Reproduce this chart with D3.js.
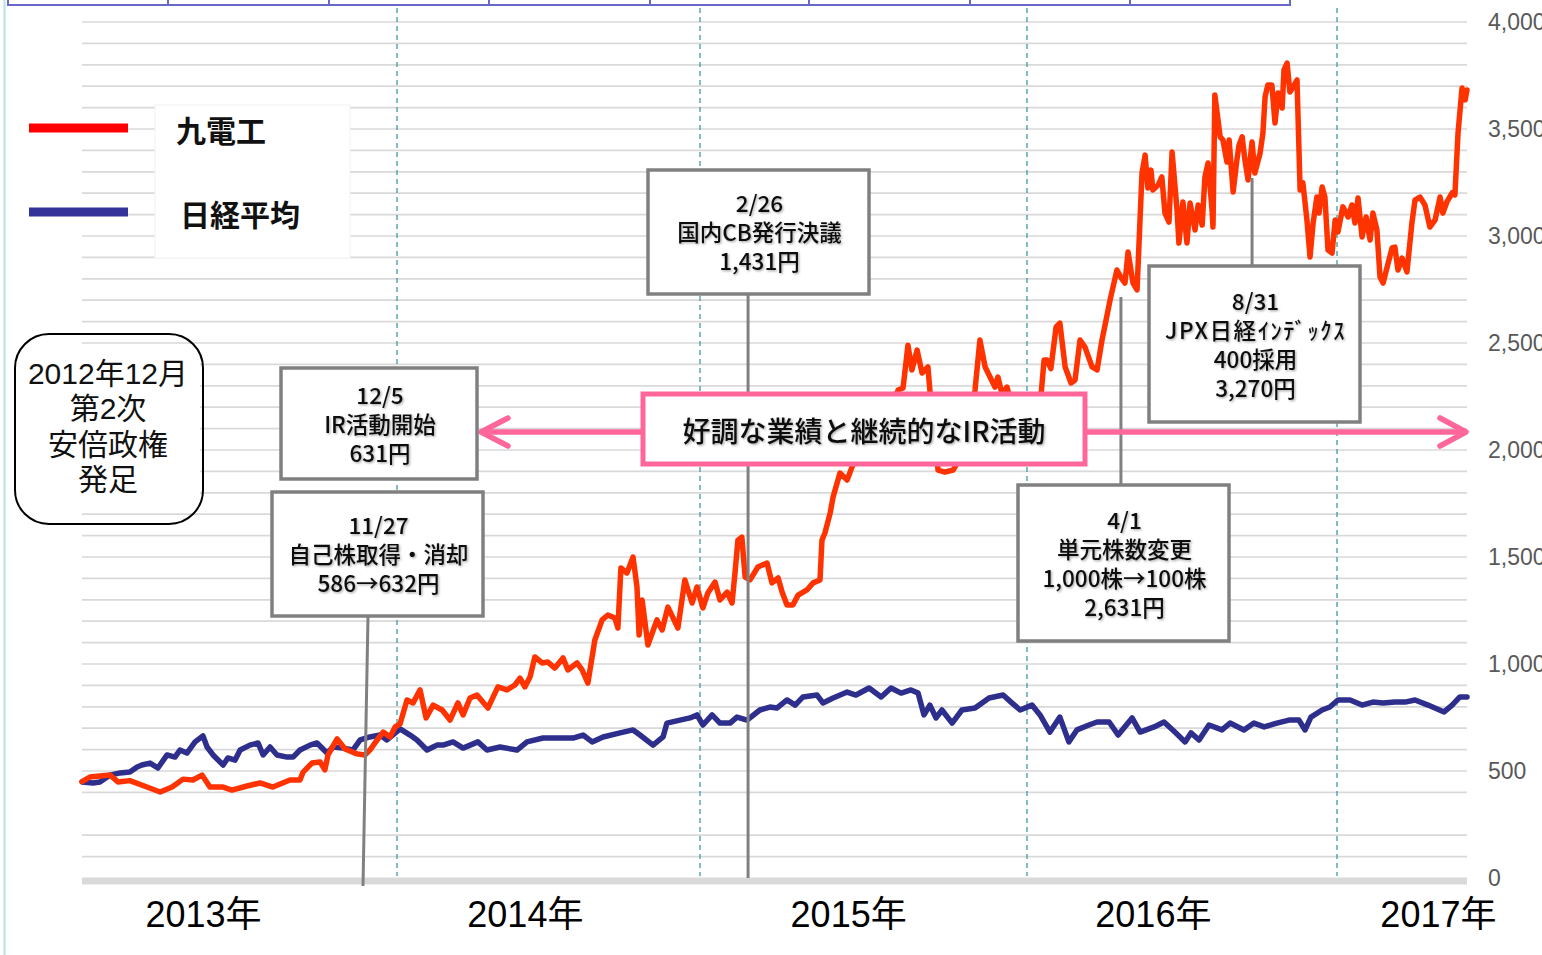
<!DOCTYPE html>
<html><head><meta charset="utf-8">
<script src="https://cdn.jsdelivr.net/npm/d3@7"></script>
<style>
html,body{margin:0;padding:0;background:#fff;overflow:hidden}
svg{display:block}
</style></head><body>
<svg id="chart" width="1542" height="955"></svg>
<script>
// ---- data (x = fractional year, value = yen / Nikkei rebased) ----
const seriesNames = ["九電工", "日経平均"];
const kyudenko = [
[2013.000,450],[2013.025,472],[2013.089,481],[2013.114,449],[2013.152,455],[2013.206,425],[2013.248,402],[2013.286,425],[2013.321,462],[2013.352,458],[2013.381,481],[2013.406,425],[2013.448,425],[2013.476,411],[2013.524,430],[2013.565,444],[2013.606,425],[2013.660,458],[2013.692,458],[2013.702,495],[2013.730,537],[2013.756,542],[2013.771,505],[2013.781,575],[2013.810,650],[2013.835,603],[2013.873,580],[2013.898,575],[2013.914,598],[2013.937,645],[2013.956,682],[2013.978,659],[2013.994,706],
[2014.010,720],[2014.033,832],[2014.053,818],[2014.076,879],[2014.096,748],[2014.119,808],[2014.149,785],[2014.175,738],[2014.201,818],[2014.218,762],[2014.241,841],[2014.264,855],[2014.300,794],[2014.333,893],[2014.363,879],[2014.389,902],[2014.406,934],[2014.422,893],[2014.439,939],[2014.455,1033],[2014.479,1005],[2014.498,1009],[2014.521,981],[2014.548,1028],[2014.564,972],[2014.594,1005],[2014.611,972],[2014.630,911],[2014.653,1112],[2014.677,1206],[2014.696,1229],[2014.719,1215],[2014.729,1168],[2014.739,1449],[2014.759,1425],[2014.779,1500],[2014.792,1360],[2014.799,1136],[2014.809,1299],[2014.828,1089],[2014.858,1206],[2014.875,1159],[2014.894,1266],[2014.927,1168],[2014.950,1393],[2014.974,1285],[2014.990,1360],
[2015.009,1262],[2015.024,1332],[2015.046,1383],[2015.061,1299],[2015.083,1336],[2015.098,1285],[2015.107,1425],[2015.116,1579],[2015.128,1593],[2015.138,1406],[2015.153,1393],[2015.177,1453],[2015.205,1472],[2015.220,1379],[2015.239,1402],[2015.251,1336],[2015.266,1276],[2015.284,1276],[2015.300,1322],[2015.327,1346],[2015.346,1379],[2015.367,1393],[2015.373,1579],[2015.382,1612],[2015.398,1705],[2015.407,1780],[2015.428,1892],[2015.450,1860],[2015.465,1921],[2015.489,2000],[2015.520,2060],[2015.550,2100],[2015.581,2180],[2015.606,2280],[2015.621,2290],[2015.636,2490],[2015.648,2374],[2015.664,2467],[2015.679,2360],[2015.697,2388],[2015.713,2100],[2015.728,1906],[2015.749,1897],[2015.774,1906],[2015.795,1960],[2015.826,2120],[2015.841,2280],[2015.856,2514],[2015.872,2388],[2015.887,2341],[2015.902,2294],[2015.911,2341],[2015.924,2260],[2015.939,2294],[2015.954,2200],[2015.979,2150],
[2016.010,2120],[2016.042,2200],[2016.055,2420],[2016.065,2420],[2016.077,2380],[2016.094,2575],[2016.106,2593],[2016.123,2388],[2016.142,2313],[2016.155,2327],[2016.171,2514],[2016.187,2481],[2016.210,2388],[2016.226,2374],[2016.242,2514],[2016.255,2607],[2016.268,2701],[2016.290,2841],[2016.306,2800],[2016.316,2780],[2016.326,2925],[2016.342,2780],[2016.355,2748],[2016.371,3294],[2016.381,3378],[2016.390,3224],[2016.400,3308],[2016.406,3215],[2016.423,3238],[2016.435,3276],[2016.445,3107],[2016.458,3065],[2016.468,3392],[2016.484,3121],[2016.490,2967],[2016.503,3159],[2016.516,2967],[2016.526,3154],[2016.542,3028],[2016.552,3145],[2016.565,3051],[2016.574,3276],[2016.584,3341],[2016.597,3121],[2016.600,3042],[2016.606,3659],[2016.623,3463],[2016.632,3449],[2016.645,3346],[2016.652,3449],[2016.665,3206],[2016.677,3355],[2016.684,3425],[2016.694,3463],[2016.703,3355],[2016.713,3262],[2016.726,3439],[2016.735,3294],[2016.752,3388],[2016.761,3481],[2016.768,3650],[2016.777,3706],[2016.790,3706],[2016.800,3528],[2016.810,3668],[2016.823,3598],[2016.829,3776],[2016.839,3808],[2016.848,3673],[2016.858,3696],[2016.871,3729],[2016.881,3215],[2016.890,3248],[2016.903,3075],[2016.913,2902],[2016.923,3061],[2016.935,3182],[2016.942,3107],[2016.952,3229],[2016.961,3182],[2016.971,2934],[2016.984,2920],[2016.994,3075],
[2017.003,3019],[2017.019,3136],[2017.036,3089],[2017.048,3145],[2017.058,3061],[2017.068,3178],[2017.081,2995],[2017.094,3089],[2017.107,2981],[2017.116,3107],[2017.129,3028],[2017.139,2808],[2017.149,2780],[2017.162,2855],[2017.178,2944],[2017.187,2948],[2017.197,2841],[2017.210,2897],[2017.226,2832],[2017.242,3061],[2017.252,3168],[2017.268,3182],[2017.284,3145],[2017.300,3042],[2017.317,3075],[2017.333,3182],[2017.342,3107],[2017.355,3159],[2017.372,3201],[2017.381,3192],[2017.391,3481],[2017.404,3692],[2017.414,3636],[2017.420,3682]
];
const nikkei = [
[2013.000,449],[2013.035,444],[2013.057,449],[2013.089,481],[2013.121,491],[2013.152,495],[2013.175,519],[2013.190,528],[2013.216,537],[2013.241,514],[2013.270,575],[2013.295,565],[2013.311,598],[2013.333,584],[2013.359,636],[2013.384,664],[2013.397,612],[2013.416,575],[2013.448,528],[2013.463,561],[2013.486,551],[2013.502,598],[2013.533,621],[2013.559,631],[2013.575,575],[2013.597,612],[2013.619,575],[2013.651,565],[2013.670,565],[2013.692,598],[2013.724,621],[2013.746,631],[2013.778,584],[2013.797,612],[2013.829,607],[2013.860,598],[2013.883,645],[2013.914,659],[2013.946,668],[2013.968,645],
[2014.010,697],[2014.043,668],[2014.066,645],[2014.099,598],[2014.119,612],[2014.132,621],[2014.152,621],[2014.185,636],[2014.218,607],[2014.267,636],[2014.297,598],[2014.340,612],[2014.396,598],[2014.429,636],[2014.482,654],[2014.538,654],[2014.581,654],[2014.614,668],[2014.644,636],[2014.680,659],[2014.736,678],[2014.779,692],[2014.802,668],[2014.845,621],[2014.878,659],[2014.891,724],[2014.934,738],[2014.967,748],[2014.990,762],
[2015.009,715],[2015.037,762],[2015.061,724],[2015.092,724],[2015.113,752],[2015.144,738],[2015.183,785],[2015.214,799],[2015.235,794],[2015.266,832],[2015.291,808],[2015.315,846],[2015.358,855],[2015.376,818],[2015.407,841],[2015.450,869],[2015.477,855],[2015.517,888],[2015.554,846],[2015.584,888],[2015.615,864],[2015.645,879],[2015.667,864],[2015.685,762],[2015.703,808],[2015.722,748],[2015.740,785],[2015.771,724],[2015.801,785],[2015.841,794],[2015.884,841],[2015.927,855],[2015.951,822],[2015.979,785],
[2016.016,808],[2016.042,762],[2016.074,682],[2016.106,752],[2016.135,636],[2016.161,692],[2016.200,715],[2016.226,729],[2016.265,729],[2016.294,668],[2016.339,748],[2016.365,682],[2016.410,706],[2016.442,729],[2016.477,682],[2016.510,636],[2016.529,678],[2016.555,645],[2016.587,715],[2016.629,692],[2016.655,724],[2016.700,692],[2016.732,724],[2016.765,706],[2016.806,724],[2016.845,738],[2016.877,738],[2016.897,692],[2016.916,752],[2016.952,785],[2016.977,799],
[2017.003,832],[2017.042,832],[2017.081,808],[2017.116,822],[2017.149,818],[2017.187,822],[2017.220,822],[2017.252,832],[2017.294,808],[2017.346,776],[2017.372,808],[2017.397,846],[2017.420,846]
];
const yTickValues = [0, 500, 1000, 1500, 2000, 2500, 3000, 3500, 4000];
const gridValues = [100,200,400,500,600,700,800,900,1000,1100,1200,1300,1400,1500,1600,1700,1800,1900,2000,2100,2200,2300,2400,2500,2600,2700,2800,2900,3000,3100,3200,3300,3400,3500,3600,3700,3800,3900,4000];
const yearLabels = ["2013年", "2014年", "2015年", "2016年", "2017年"];
const yearLabelPos = [2013.384, 2014.422, 2015.453, 2016.406, 2017.326];
const yearBoundaries = [2014, 2015, 2016, 2017];
const abeText = ["2012年12月", "第2次", "安倍政権", "発足"];
const callouts = [
  {lines:["12/5","IR活動開始","631円"], box:[281,368,477,479], anchor:null},
  {lines:["11/27","自己株取得・消却","586→632円"], box:[272,492,483,616], anchor:2013.900, y1:616, y2:886},
  {lines:["2/26","国内CB発行決議","1,431円"], box:[648,170,869,294], anchor:2015.147, y1:294, y2:878},
  {lines:["4/1","単元株数変更","1,000株→100株","2,631円"], box:[1018,485,1229,641], anchor:2016.303, y1:485, y2:297},
  {lines:["8/31","JPX日経ｲﾝﾃﾞｯｸｽ","400採用","3,270円"], box:[1149,266,1360,422], anchor:2016.726, y1:266, y2:178}
];
const bannerText = "好調な業績と継続的なIR活動";

// ---- scales ----
const x = d3.scaleLinear().domain([2013, 2014, 2015, 2016, 2017, 2017.42]).range([82, 397, 700, 1027, 1337, 1467]);
const y = d3.scaleLinear().domain([0, 4000]).range([878, 22]);
const X0 = 82, X1 = 1467;

const svg = d3.select("#chart");
const defs = svg.append("defs");
const f = defs.append("filter").attr("id","ts").attr("x","-10%").attr("y","-40%").attr("width","130%").attr("height","180%");
f.append("feDropShadow").attr("dx",1.2).attr("dy",1.2).attr("stdDeviation",0.8).attr("flood-color","#000").attr("flood-opacity",0.35);

svg.append("rect").attr("width",1542).attr("height",955).attr("fill","#fff");

// partial table at top
const tbl = svg.append("g");
tbl.append("rect").attr("x",8).attr("y",-10).attr("width",1282).attr("height",15).attr("fill","none").attr("stroke","#6868c8").attr("stroke-width",2);
[168,329,489,650,809,970,1130].forEach(v=>tbl.append("line").attr("x1",v).attr("x2",v).attr("y1",-10).attr("y2",5).attr("stroke","#6868c8").attr("stroke-width",2));
// left border
svg.append("line").attr("x1",4.5).attr("x2",4.5).attr("y1",0).attr("y2",955).attr("stroke","#b7e2e4").attr("stroke-width",2);

// grid lines
svg.append("g").selectAll("line").data(gridValues).join("line")
  .attr("x1",X0).attr("x2",X1).attr("y1",d=>y(d)).attr("y2",d=>y(d))
  .attr("stroke","#d9d9d9").attr("stroke-width",1.7);
// base axis
svg.append("line").attr("x1",X0).attr("x2",X1).attr("y1",y(0)+3).attr("y2",y(0)+3).attr("stroke","#d9d9d9").attr("stroke-width",7);

// dashed year boundaries
svg.append("g").selectAll("line").data(yearBoundaries).join("line")
  .attr("x1",d=>x(d)).attr("x2",d=>x(d)).attr("y1",8).attr("y2",876)
  .attr("stroke","#3f9aa2").attr("stroke-width",1.3).attr("stroke-dasharray","5,4");

// series
const line = d3.line().x(d=>x(d[0])).y(d=>y(d[1]));
svg.append("path").datum(nikkei).attr("d",line).attr("fill","none").attr("stroke","#2e2e8c").attr("stroke-width",5.5).attr("stroke-linejoin","round").attr("stroke-linecap","round");
svg.append("path").datum(kyudenko).attr("d",line).attr("fill","none").attr("stroke","#ff3300").attr("stroke-width",5.5).attr("stroke-linejoin","round").attr("stroke-linecap","round");

// pointer lines
callouts.filter(c=>c.anchor!==null).forEach(c=>{
  const slant = c.lines[0]==="11/27" ? 2.5 : 0;
  svg.append("line").attr("x1",x(c.anchor)+slant).attr("x2",x(c.anchor)-slant).attr("y1",c.y1).attr("y2",c.y2)
    .attr("stroke","#808080").attr("stroke-width",3);
});

// pink arrow
const pink = "#ff6699";
const ay = 432;
svg.append("line").attr("x1",481).attr("x2",1465).attr("y1",ay).attr("y2",ay).attr("stroke",pink).attr("stroke-width",5.5);
svg.append("path").attr("d",`M508,${ay-14} L481,${ay} L508,${ay+14}`).attr("fill","none").attr("stroke",pink).attr("stroke-width",5.5).attr("stroke-linecap","round").attr("stroke-linejoin","round");
svg.append("path").attr("d",`M1440,${ay-14} L1466,${ay} L1440,${ay+14}`).attr("fill","none").attr("stroke",pink).attr("stroke-width",5.5).attr("stroke-linecap","round").attr("stroke-linejoin","round");

// callout boxes
const cjk = "'Noto Sans CJK JP','Noto Sans',sans-serif";
callouts.forEach(c=>{
  const [bx0,by0,bx1,by1] = c.box;
  svg.append("rect").attr("x",bx0).attr("y",by0).attr("width",bx1-bx0).attr("height",by1-by0)
    .attr("fill","#fff").attr("stroke","#808080").attr("stroke-width",3.5);
  const cx = (bx0+bx1)/2 + 1, n = c.lines.length, lh = 29;
  const cy = (by0+by1)/2 - 1;
  c.lines.forEach((t,i)=>{
    const tx = svg.append("text").attr("x",cx).attr("y",cy + (i-(n-1)/2)*lh)
      .attr("text-anchor","middle").attr("dominant-baseline","central")
      .attr("font-family",cjk).attr("font-size",22.5).attr("font-weight",500).attr("fill","#111").attr("filter","url(#ts)").text(t);
    if (/[ｦ-ﾟ]/.test(t)) tx.attr("letter-spacing",1.6);
  });
});

// banner
svg.append("rect").attr("x",643).attr("y",394).attr("width",442).attr("height",70).attr("fill","#fff").attr("stroke",pink).attr("stroke-width",5);
svg.append("text").attr("x",864).attr("y",430).attr("text-anchor","middle").attr("dominant-baseline","central")
  .attr("font-family",cjk).attr("font-size",28).attr("font-weight",500).attr("fill","#111").attr("filter","url(#ts)").text(bannerText);

// legend
svg.append("rect").attr("x",155).attr("y",105).attr("width",195).attr("height",153).attr("fill","#fff").attr("stroke","#f2f2f2").attr("stroke-width",1);
const legColors = ["#ff0000","#333399"];
const legY = [128, 212];
seriesNames.forEach((nm,i)=>{
  svg.append("line").attr("x1",29).attr("x2",128).attr("y1",legY[i]).attr("y2",legY[i]).attr("stroke",legColors[i]).attr("stroke-width",9);
  svg.append("text").attr("x",i===0?176:180).attr("y",legY[i]+1).attr("dominant-baseline","central")
    .attr("font-family",cjk).attr("font-weight",700).attr("font-size",30).attr("fill","#111").text(nm);
});

// Abe box
svg.append("rect").attr("x",18).attr("y",352).attr("width",182).attr("height",154).attr("fill","#fff");
svg.append("rect").attr("x",15).attr("y",334).attr("width",188).attr("height",190).attr("rx",34).attr("ry",34)
  .attr("fill","none").attr("stroke","#000").attr("stroke-width",2);
abeText.forEach((t,i)=>{
  svg.append("text").attr("x",108).attr("y",373 + i*35.5).attr("text-anchor","middle").attr("dominant-baseline","central")
    .attr("font-family","'Liberation Sans','Noto Sans CJK JP',sans-serif").attr("font-size",30).attr("fill","#111").text(t);
});

// y axis labels (right)
const yAxis = d3.axisRight(y).tickValues(yTickValues).tickFormat(d3.format(",")).tickSize(0).tickPadding(21);
const gy = svg.append("g").attr("transform",`translate(${X1},0)`).call(yAxis);
gy.select(".domain").remove();
gy.selectAll("text").attr("font-family","'Liberation Sans',Arial,sans-serif").attr("font-size",23).attr("fill","#595959");

// x year labels
const xAxis = d3.axisBottom(x).tickValues(yearLabelPos).tickFormat((d,i)=>yearLabels[i]).tickSize(0).tickPadding(0);
const gx = svg.append("g").attr("transform","translate(0,914)").call(xAxis);
gx.select(".domain").remove();
gx.selectAll("text").attr("dy",null).attr("dominant-baseline","central").attr("font-family","'Liberation Sans','Noto Sans CJK JP',sans-serif").attr("font-size",36).attr("fill","#000");
</script>
</body></html>
